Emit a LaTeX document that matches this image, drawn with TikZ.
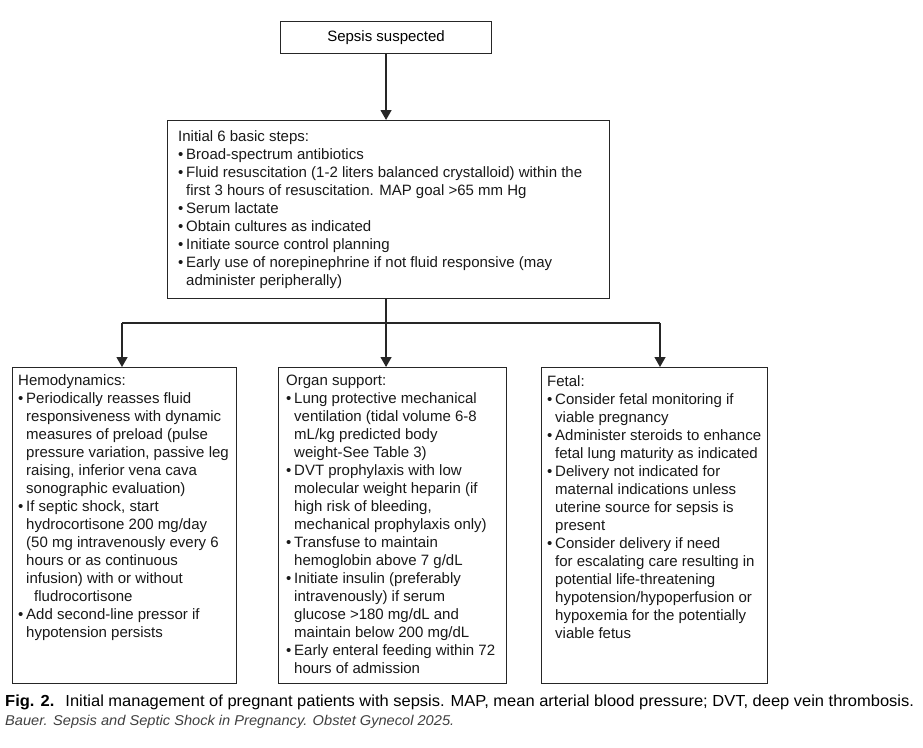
\documentclass[tikz,border=0pt]{standalone}
\usepackage{fontspec}
\setmainfont{Liberation Sans}
\newfontfamily\capfont[FakeStretch=1.03]{Liberation Sans}
\newfontfamily\capifont[FakeStretch=1.03]{Liberation Sans}
\usetikzlibrary{arrows.meta}
\newcommand\myb{\makebox[8pt][l]{•}}
\newcommand\myc{\hspace*{8pt}}
\begin{document}
\begin{tikzpicture}[x=1pt,y=-1pt,
  box/.style={draw=black!85, line width=1.1pt, inner sep=0pt, anchor=north west},
  txt/.style={anchor=north west, inner sep=0pt, align=left, font=\fontsize{15}{18}\selectfont, text=black!90},
  conn/.style={line width=1.3pt, draw=black!85},
  arr/.style={conn, -{Triangle[width=11pt,length=10pt]}}]
\useasboundingbox[fill=white] (0,0) rectangle (923,747);

\node[box, minimum width=211pt, minimum height=32pt, font=\fontsize{15}{18}\selectfont] (top) at (280,21) {Sepsis suspected};
\node[box, minimum width=442pt, minimum height=178pt] (init) at (167,120) {};
\node[box, minimum width=224pt, minimum height=316pt] (hemo) at (12,367) {};
\node[box, minimum width=228pt, minimum height=316pt] (organ) at (278,367) {};
\node[box, minimum width=226pt, minimum height=316pt] (fetal) at (541,367) {};

\draw[arr] (top.south) -- (top.south |- init.north);
\draw[conn] (init.south -| top.south) -- ++(0,25) coordinate (jm);
\coordinate (jl) at (122,323);
\coordinate (jr) at (660,323);
\draw[conn] (jl) -- (jr);
\draw[arr] (jl) -- (jl |- hemo.north);
\draw[arr] (jm) -- (jm |- organ.north);
\draw[arr] (jr) -- (jr |- fetal.north);

\node[txt] (initT) at (178,130) {Initial 6 basic steps:\\
\myb Broad-spectrum antibiotics\\
\myb Fluid resuscitation (1-2 liters balanced crystalloid) within the\\
\myc first 3 hours of resuscitation. MAP goal >65 mm Hg\\
\myb Serum lactate\\
\myb Obtain cultures as indicated\\
\myb Initiate source control planning\\
\myb Early use of norepinephrine if not fluid responsive (may\\
\myc administer peripherally)};

\node[txt] (hemoT) at (18,374) {Hemodynamics:\\
\myb Periodically reasses fluid\\
\myc responsiveness with dynamic\\
\myc measures of preload (pulse\\
\myc pressure variation, passive leg\\
\myc raising, inferior vena cava\\
\myc sonographic evaluation)\\
\myb If septic shock, start\\
\myc hydrocortisone 200 mg/day\\
\myc (50 mg intravenously every 6\\
\myc hours or as continuous\\
\myc infusion) with or without\\
\myc\hspace*{8pt}fludrocortisone\\
\myb Add second-line pressor if\\
\myc hypotension persists};

\node[txt] (organT) at (286,375) {Organ support:\\
\myb Lung protective mechanical\\
\myc ventilation (tidal volume 6-8\\
\myc mL/kg predicted body\\
\myc weight-See Table 3)\\
\myb DVT prophylaxis with low\\
\myc molecular weight heparin (if\\
\myc high risk of bleeding,\\
\myc mechanical prophylaxis only)\\
\myb Transfuse to maintain\\
\myc hemoglobin above 7 g/dL\\
\myb Initiate insulin (preferably\\
\myc intravenously) if serum\\
\myc glucose >180 mg/dL and\\
\myc maintain below 200 mg/dL\\
\myb Early enteral feeding within 72\\
\myc hours of admission};

\node[txt] (fetalT) at (547,375) {Fetal:\\
\myb Consider fetal monitoring if\\
\myc viable pregnancy\\
\myb Administer steroids to enhance\\
\myc fetal lung maturity as indicated\\
\myb Delivery not indicated for\\
\myc maternal indications unless\\
\myc uterine source for sepsis is\\
\myc present\\
\myb Consider delivery if need\\
\myc for escalating care resulting in\\
\myc potential life-threatening\\
\myc hypotension/hypoperfusion or\\
\myc hypoxemia for the potentially\\
\myc viable fetus};

\node[anchor=base west, inner sep=0pt, font=\capfont\fontsize{16}{18}\selectfont] (cap1) at (5,706) {\textbf{Fig. 2.}\hspace{5pt} Initial management of pregnant patients with sepsis. MAP, mean arterial blood pressure; DVT, deep vein thrombosis.};
\node[anchor=base west, inner sep=0pt, font=\capifont\itshape\fontsize{14.2}{16}\selectfont, text=black!75] (cap2) at (5,725) {Bauer. Sepsis and Septic Shock in Pregnancy. Obstet Gynecol 2025.};
\end{tikzpicture}
\end{document}
